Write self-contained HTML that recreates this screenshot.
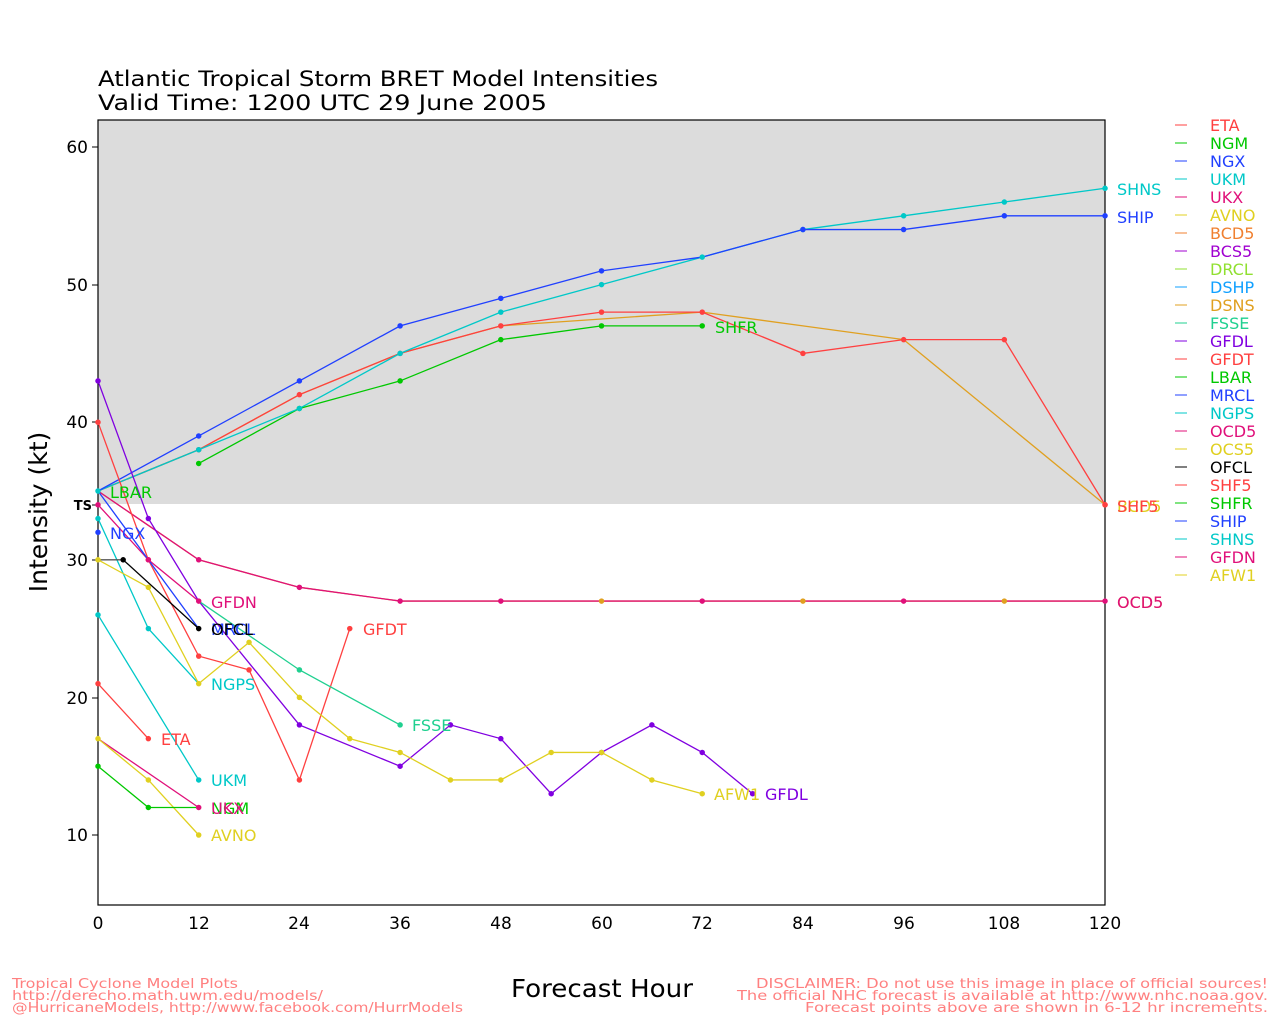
<!DOCTYPE html>
<html><head><meta charset="utf-8"><style>
html,body{margin:0;padding:0;background:#fff;}
svg{display:block;font-family:"DejaVu Sans","Liberation Sans",sans-serif;}
.s{fill:none;stroke-width:1.3;vector-effect:non-scaling-stroke;}
.d{fill:none;stroke-width:5.5;stroke-linecap:round;vector-effect:non-scaling-stroke;}
</style></head><body>
<svg width="1280" height="1024" viewBox="0 0 1280 1024">
<rect x="98" y="120" width="1007" height="384" fill="#dcdcdc"/>
<rect x="98" y="120" width="1007" height="785" fill="none" stroke="#000" stroke-width="1.2"/>
<text x="98" y="86" font-size="21" textLength="560" lengthAdjust="spacingAndGlyphs">Atlantic Tropical Storm BRET Model Intensities</text>
<text x="98" y="110" font-size="21" textLength="449" lengthAdjust="spacingAndGlyphs">Valid Time: 1200 UTC 29 June 2005</text>
<g font-size="17" text-anchor="end">
<text x="88" y="153">60</text><text x="88" y="291">50</text><text x="88" y="428">40</text><text x="88" y="566">30</text><text x="88" y="704">20</text><text x="88" y="841">10</text>
</g>
<text x="92" y="510" font-size="13" font-weight="bold" text-anchor="end">TS</text>
<g stroke="#000"><line x1="92" y1="147" x2="98" y2="147"/><line x1="92" y1="285" x2="98" y2="285"/><line x1="92" y1="422" x2="98" y2="422"/><line x1="92" y1="560" x2="98" y2="560"/><line x1="92" y1="698" x2="98" y2="698"/><line x1="92" y1="835" x2="98" y2="835"/><line x1="92" y1="505" x2="98" y2="505"/></g>
<g font-size="17" text-anchor="middle">
<text x="98" y="929">0</text><text x="199" y="929">12</text><text x="299" y="929">24</text><text x="400" y="929">36</text><text x="501" y="929">48</text><text x="602" y="929">60</text><text x="702" y="929">72</text><text x="803" y="929">84</text><text x="904" y="929">96</text><text x="1004" y="929">108</text><text x="1105" y="929">120</text>
</g>
<text x="511" y="997" font-size="25" textLength="182" lengthAdjust="spacingAndGlyphs">Forecast Hour</text>
<text transform="translate(47,512) rotate(-90)" font-size="25" text-anchor="middle">Intensity (kt)</text>

<g transform="matrix(8.392 0 0 -13.76 98 972.6)">
<polyline class="s" stroke="#e0a020" points="0,35 12,38 24,42 36,45 48,47 60,47.5 72,48 84,47 96,46 120,34"/>
<polyline class="s" stroke="#ff4040" points="0,35 12,38 24,42 36,45 48,47 60,48 72,48 84,45 96,46 108,46 120,34"/>
<polyline class="s" stroke="#00c800" points="12,37 24,41 36,43 48,46 60,47 72,47"/>
<polyline class="s" stroke="#00c8c8" points="0,35 12,38 24,41 36,45 48,48 60,50 72,52 84,54 96,55 108,56 120,57"/>
<polyline class="s" stroke="#2040ff" points="0,35 12,39 24,43 36,47 48,49 60,51 72,52 84,54 96,54 108,55 120,55"/>
<polyline class="s" stroke="#e0a020" points="0,35 12,30 24,28 36,27 120,27"/>
<polyline class="s" stroke="#e0107a" points="0,35 12,30 24,28 36,27 120,27"/>
<polyline class="s" stroke="#8000e0" points="0,43 6,33 12,27 24,18 36,15 42,18 48,17 54,13 60,16 66,18 72,16 78,13"/>
<polyline class="s" stroke="#ff4040" points="0,40 6,30 12,23 18,22 24,14 30,25"/>
<polyline class="s" stroke="#20d090" points="12,27 24,22 36,18"/>
<polyline class="s" stroke="#e0107a" points="0,34 6,30 12,27"/>
<polyline class="s" stroke="#2040ff" points="0,35 12,25"/>
<polyline class="s" stroke="#00c8c8" points="0,33 6,25 12,21"/>
<polyline class="s" stroke="#e0d020" points="0,30 6,28 12,21 18,24 24,20 30,17 36,16 42,14 48,14 54,16 60,16 66,14 72,13"/>
<polyline class="s" stroke="#555" points="0,30 3,30"/>
<polyline class="s" stroke="#000" points="3,30 12,25"/>
<polyline class="s" stroke="#00c8c8" points="0,26 12,14"/>
<polyline class="s" stroke="#ff4040" points="0,21 6,17"/>
<polyline class="s" stroke="#e0107a" points="0,17 12,12"/>
<polyline class="s" stroke="#e0d020" points="0,17 6,14 12,10"/>
<polyline class="s" stroke="#00c800" points="0,15 6,12 12,12"/>

<path class="d" stroke="#ff4040" d="M0,40l0,0M6,30l0,0M12,23l0,0M18,22l0,0M24,14l0,0M30,25l0,0M12,38l0,0M24,42l0,0M36,45l0,0M48,47l0,0M60,48l0,0M72,48l0,0M84,45l0,0M96,46l0,0M108,46l0,0M120,34l0,0M0,21l0,0M6,17l0,0"/>
<path class="d" stroke="#00c800" d="M12,37l0,0M24,41l0,0M36,43l0,0M48,46l0,0M60,47l0,0M72,47l0,0M0,15l0,0M6,12l0,0"/>
<path class="d" stroke="#00c8c8" d="M12,38l0,0M24,41l0,0M36,45l0,0M48,48l0,0M60,50l0,0M72,52l0,0M84,54l0,0M96,55l0,0M108,56l0,0M120,57l0,0M0,33l0,0M6,25l0,0M0,26l0,0M12,14l0,0M0,35l0,0"/>
<path class="d" stroke="#2040ff" d="M12,39l0,0M24,43l0,0M36,47l0,0M48,49l0,0M60,51l0,0M84,54l0,0M96,54l0,0M108,55l0,0M120,55l0,0M0,32l0,0"/>
<path class="d" stroke="#e0a020" d="M60,27l0,0M84,27l0,0M108,27l0,0"/>
<path class="d" stroke="#e0107a" d="M0,34l0,0M6,30l0,0M12,30l0,0M24,28l0,0M36,27l0,0M48,27l0,0M72,27l0,0M96,27l0,0M120,27l0,0M12,27l0,0M12,12l0,0"/>
<path class="d" stroke="#8000e0" d="M0,43l0,0M6,33l0,0M24,18l0,0M36,15l0,0M42,18l0,0M48,17l0,0M54,13l0,0M60,16l0,0M66,18l0,0M72,16l0,0M78,13l0,0"/>
<path class="d" stroke="#20d090" d="M24,22l0,0M36,18l0,0"/>
<path class="d" stroke="#e0d020" d="M0,30l0,0M6,28l0,0M12,21l0,0M18,24l0,0M24,20l0,0M30,17l0,0M36,16l0,0M42,14l0,0M48,14l0,0M54,16l0,0M60,16l0,0M66,14l0,0M72,13l0,0M0,17l0,0M6,14l0,0M12,10l0,0"/>
<path class="d" stroke="#000" d="M3,30l0,0M12,25l0,0"/>
<path class="d" stroke="#ff4040" d="M120,34l0,0"/>
</g>

<g font-size="16">
<text x="1117" y="195" fill="#00c8c8">SHNS</text>
<text x="1117" y="223" fill="#2040ff">SHIP</text>
<text x="1117" y="512" fill="#e0d020">BCD5</text>
<text x="1117" y="512" fill="#ff4040">SHF5</text>
<text x="1117" y="608" fill="#e0a020">OCD5</text>
<text x="1117" y="608" fill="#e0107a">OCD5</text>
<text x="715" y="333" fill="#00c800">SHFR</text>
<text x="110" y="498" fill="#00c800">LBAR</text>
<text x="110" y="539" fill="#2040ff">NGX</text>
<text x="211" y="608" fill="#e0107a">GFDN</text>
<text x="211" y="635" fill="#2040ff">MRCL</text>
<text x="211" y="635" fill="#000">OFCL</text>
<text x="363" y="635" fill="#ff4040">GFDT</text>
<text x="211" y="690" fill="#00c8c8">NGPS</text>
<text x="412" y="731" fill="#20d090">FSSE</text>
<text x="161" y="745" fill="#ff4040">ETA</text>
<text x="211" y="786" fill="#00c8c8">UKM</text>
<text x="211" y="814" fill="#00c800">NGM</text>
<text x="211" y="814" fill="#e0107a">UKX</text>
<text x="211" y="841" fill="#e0d020">AVNO</text>
<text x="714" y="800" fill="#e0d020">AFW1</text>
<text x="765" y="800" fill="#8000e0">GFDL</text>
</g>

<g font-size="16">
<line x1="1175" y1="125" x2="1187" y2="125" stroke="#ff4040"/><text x="1210" y="131" fill="#ff4040">ETA</text>
<line x1="1175" y1="143" x2="1187" y2="143" stroke="#00c800"/><text x="1210" y="149" fill="#00c800">NGM</text>
<line x1="1175" y1="161" x2="1187" y2="161" stroke="#2040ff"/><text x="1210" y="167" fill="#2040ff">NGX</text>
<line x1="1175" y1="179" x2="1187" y2="179" stroke="#00c8c8"/><text x="1210" y="185" fill="#00c8c8">UKM</text>
<line x1="1175" y1="197" x2="1187" y2="197" stroke="#e0107a"/><text x="1210" y="203" fill="#e0107a">UKX</text>
<line x1="1175" y1="215" x2="1187" y2="215" stroke="#e0d020"/><text x="1210" y="221" fill="#e0d020">AVNO</text>
<line x1="1175" y1="233" x2="1187" y2="233" stroke="#f08030"/><text x="1210" y="239" fill="#f08030">BCD5</text>
<line x1="1175" y1="251" x2="1187" y2="251" stroke="#a000d0"/><text x="1210" y="257" fill="#a000d0">BCS5</text>
<line x1="1175" y1="269" x2="1187" y2="269" stroke="#90e030"/><text x="1210" y="275" fill="#90e030">DRCL</text>
<line x1="1175" y1="287" x2="1187" y2="287" stroke="#10a0ff"/><text x="1210" y="293" fill="#10a0ff">DSHP</text>
<line x1="1175" y1="305" x2="1187" y2="305" stroke="#e0a020"/><text x="1210" y="311" fill="#e0a020">DSNS</text>
<line x1="1175" y1="323" x2="1187" y2="323" stroke="#20d090"/><text x="1210" y="329" fill="#20d090">FSSE</text>
<line x1="1175" y1="341" x2="1187" y2="341" stroke="#8000e0"/><text x="1210" y="347" fill="#8000e0">GFDL</text>
<line x1="1175" y1="359" x2="1187" y2="359" stroke="#ff4040"/><text x="1210" y="365" fill="#ff4040">GFDT</text>
<line x1="1175" y1="377" x2="1187" y2="377" stroke="#00c800"/><text x="1210" y="383" fill="#00c800">LBAR</text>
<line x1="1175" y1="395" x2="1187" y2="395" stroke="#2040ff"/><text x="1210" y="401" fill="#2040ff">MRCL</text>
<line x1="1175" y1="413" x2="1187" y2="413" stroke="#00c8c8"/><text x="1210" y="419" fill="#00c8c8">NGPS</text>
<line x1="1175" y1="431" x2="1187" y2="431" stroke="#e0107a"/><text x="1210" y="437" fill="#e0107a">OCD5</text>
<line x1="1175" y1="449" x2="1187" y2="449" stroke="#e0d020"/><text x="1210" y="455" fill="#e0d020">OCS5</text>
<line x1="1175" y1="467" x2="1187" y2="467" stroke="#000"/><text x="1210" y="473" fill="#000">OFCL</text>
<line x1="1175" y1="485" x2="1187" y2="485" stroke="#ff4040"/><text x="1210" y="491" fill="#ff4040">SHF5</text>
<line x1="1175" y1="503" x2="1187" y2="503" stroke="#00c800"/><text x="1210" y="509" fill="#00c800">SHFR</text>
<line x1="1175" y1="521" x2="1187" y2="521" stroke="#2040ff"/><text x="1210" y="527" fill="#2040ff">SHIP</text>
<line x1="1175" y1="539" x2="1187" y2="539" stroke="#00c8c8"/><text x="1210" y="545" fill="#00c8c8">SHNS</text>
<line x1="1175" y1="557" x2="1187" y2="557" stroke="#e0107a"/><text x="1210" y="563" fill="#e0107a">GFDN</text>
<line x1="1175" y1="575" x2="1187" y2="575" stroke="#e0d020"/><text x="1210" y="581" fill="#e0d020">AFW1</text>
</g>

<g font-size="13" fill="#ff8080">
<text x="12" y="988" textLength="226" lengthAdjust="spacingAndGlyphs">Tropical Cyclone Model Plots</text>
<text x="12" y="1000" textLength="311" lengthAdjust="spacingAndGlyphs">http://derecho.math.uwm.edu/models/</text>
<text x="12" y="1012" textLength="451" lengthAdjust="spacingAndGlyphs">@HurricaneModels, http://www.facebook.com/HurrModels</text>
<text x="756" y="988" textLength="512" lengthAdjust="spacingAndGlyphs">DISCLAIMER: Do not use this image in place of official sources!</text>
<text x="737" y="1000" textLength="531" lengthAdjust="spacingAndGlyphs">The official NHC forecast is available at http://www.nhc.noaa.gov.</text>
<text x="805" y="1012" textLength="463" lengthAdjust="spacingAndGlyphs">Forecast points above are shown in 6-12 hr increments.</text>
</g>
</svg>
</body></html>
